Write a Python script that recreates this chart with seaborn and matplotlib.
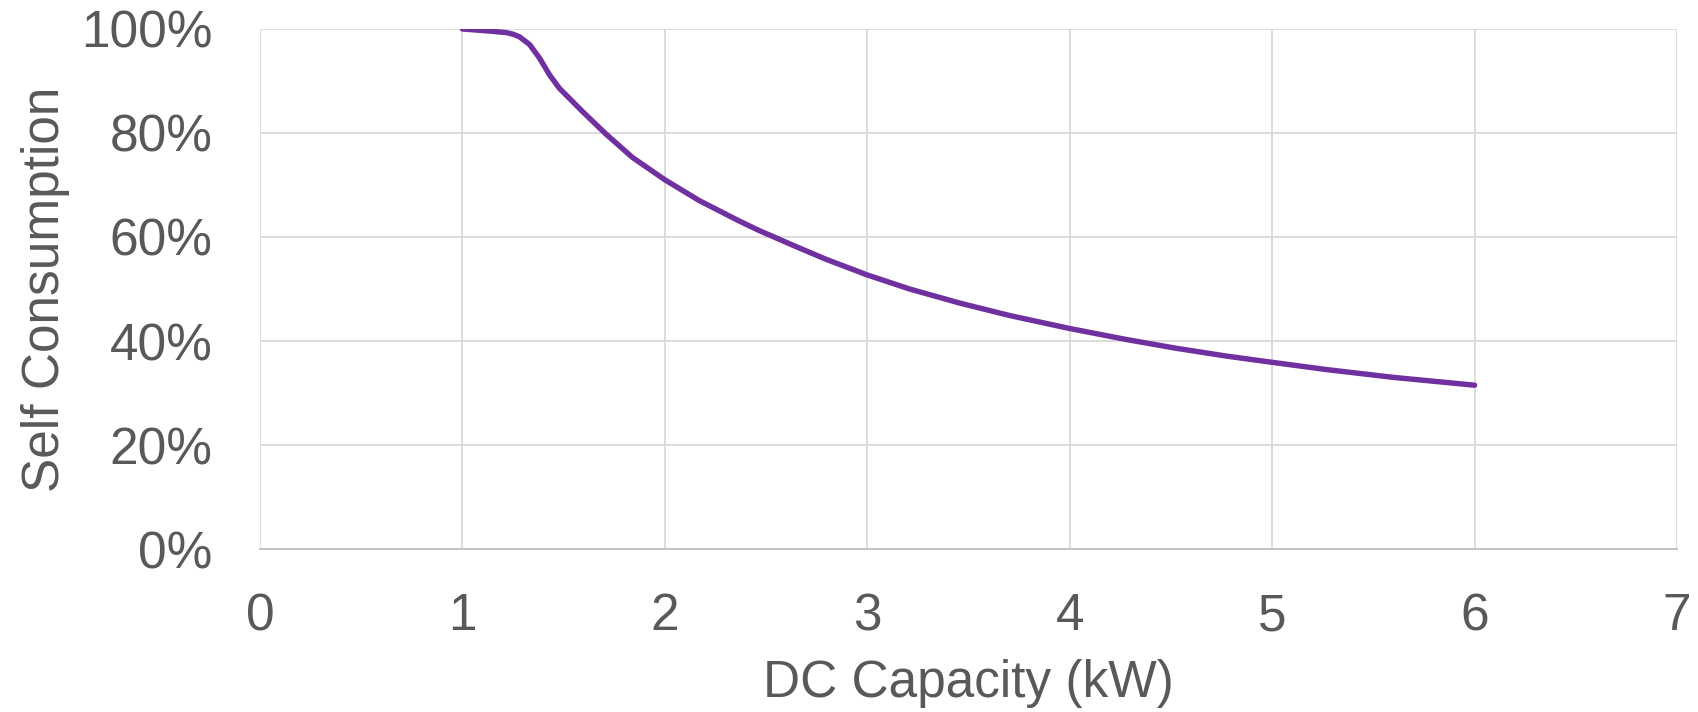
import numpy as np
import pandas as pd
import matplotlib
matplotlib.use("Agg")
import matplotlib.pyplot as plt
from matplotlib.ticker import PercentFormatter
import seaborn as sns

# values
dc_capacity_kw = [1.000, 1.135, 1.217, 1.250, 1.282, 1.332, 1.381, 1.430, 1.479, 1.594,
                  1.709, 1.840, 2.000, 2.170, 2.366, 2.468, 2.563, 2.633, 2.797, 3.000,
                  3.209, 3.456, 3.703, 4.000, 4.278, 4.526, 4.774, 5.000, 5.270, 5.600,
                  6.000]
self_consumption_pct = [100.0, 99.6, 99.3, 99.0, 98.5, 97.0, 94.4, 91.2, 88.6, 84.1,
                        79.8, 75.3, 71.0, 67.0, 63.1, 61.2, 59.6, 58.4, 55.7, 52.7,
                        50.0, 47.3, 44.9, 42.4, 40.3, 38.6, 37.1, 35.9, 34.5, 33.0,
                        31.5]
x_ticks = [0, 1, 2, 3, 4, 5, 6, 7]
y_ticks = [0, 20, 40, 60, 80, 100]

df = pd.DataFrame({"DC Capacity (kW)": dc_capacity_kw,
                   "Self Consumption": self_consumption_pct})

sns.set_theme(style="whitegrid")
plt.rcParams["font.family"] = ["Liberation Sans", "DejaVu Sans"]

text_color = "#595959"
grid_color = "#d9d9d9"

fig = plt.figure(figsize=(16.99, 7.12), dpi=100)
ax = fig.add_axes([0.1530, 0.2289, 0.8341, 0.7304])

sns.lineplot(data=df, x="DC Capacity (kW)", y="Self Consumption", ax=ax,
             color="#7030A0", linewidth=3.9, solid_capstyle="round",
             solid_joinstyle="round")

ax.set_xlim(x_ticks[0], x_ticks[-1])
ax.set_ylim(y_ticks[0], y_ticks[-1])
ax.set_xticks(x_ticks)
ax.set_yticks(y_ticks)
ax.yaxis.set_major_formatter(PercentFormatter(decimals=0))

ax.grid(True, color=grid_color, linewidth=1.3)
for side in ["top", "right", "left"]:
    ax.spines[side].set_visible(False)
ax.spines["bottom"].set_color("#bfbfbf")
ax.spines["bottom"].set_linewidth(1.3)

ax.tick_params(axis="both", length=0, labelsize=37, labelcolor=text_color)
ax.tick_params(axis="x", pad=31)
ax.tick_params(axis="y", pad=34)

ax.set_xlabel("DC Capacity (kW)", fontsize=37, color=text_color)
ax.set_ylabel("Self Consumption", fontsize=37, color=text_color)
ax.xaxis.set_label_coords(0.5, -0.212)
ax.yaxis.set_label_coords(-0.134, 0.5)

fig.savefig("out.png", dpi=100, facecolor="white")
